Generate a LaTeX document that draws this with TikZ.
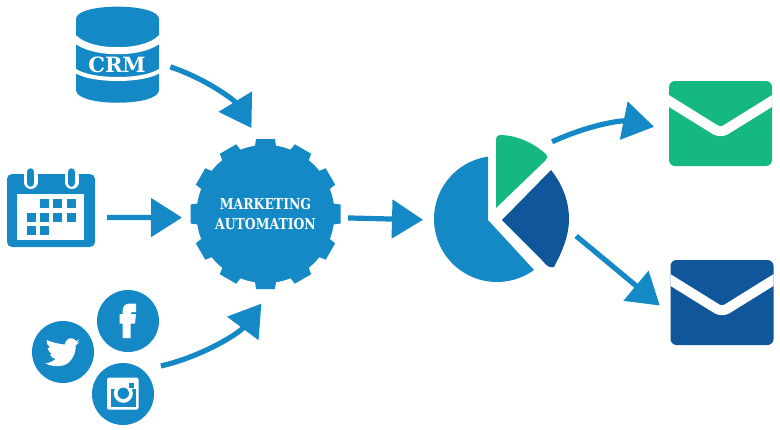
\documentclass[tikz,border=0pt]{standalone}
\usepackage{fontspec}
\usetikzlibrary{arrows.meta}
\newfontfamily\gearfont[FakeStretch=0.83]{DejaVu Serif}
\newfontfamily\crmfont{DejaVu Serif}
\definecolor{brandblue}{HTML}{1589C5}
\definecolor{brandgreen}{HTML}{15B97F}
\definecolor{branddark}{HTML}{10569A}
\tikzset{
  flow/.style={draw=brandblue, line width=5.2pt, -{Triangle[length=31pt, width=38pt]}},
  iconbox/.style={rectangle, inner sep=0pt, outer sep=0pt},
  social/.style={circle, fill=brandblue, minimum size=62pt, inner sep=0pt, outer sep=0pt},
  mail/.style={rectangle, rounded corners=6pt, minimum width=103pt, minimum height=85pt,
    inner sep=0pt, outer sep=0pt, path picture={
      \draw[white, line width=10pt, line join=round]
        ([shift={(-62,-29)}]path picture bounding box.center) --
        ([shift={(0,9.5)}]path picture bounding box.center) --
        ([shift={(62,-29)}]path picture bounding box.center);}}
}
\begin{document}
\begin{tikzpicture}[x=1pt, y=-1pt]
\useasboundingbox (0,0) rectangle (780,429);

\fill[brandblue] (76,19) .. controls (76,2.5) and (159,2.5) .. (159,19) -- (159,90)
  .. controls (159,107) and (76,107) .. (76,90) -- cycle;
\draw[white, line width=7pt] (74,38) .. controls (90,55) and (145,55) .. (161,38);
\draw[white, line width=4pt] (74,70) .. controls (90,82) and (145,82) .. (161,70);
\node[iconbox, minimum width=83pt, minimum height=96pt] (crm) at (117.5,55) {};
\node[text=white, inner sep=0pt, font=\crmfont\bfseries\fontsize{21}{21}\selectfont] (crmtext) at (117,64.5) {CRM};

\node[iconbox, fill=brandblue, rounded corners=5pt, minimum width=88pt, minimum height=73pt] (calendar) at (51,210.5) {};
\node[iconbox, fill=white, minimum width=67pt, minimum height=46pt] (sheet) at (50.5,217) {};
\foreach \px in {30.7,71.7} {
  \draw[white, line width=14pt, line cap=round] (\px,176) -- (\px,182);
  \draw[brandblue, line width=7.5pt, line cap=round] (\px,172) -- (\px,183);
}
\foreach \px/\py in {40/199,53/199,67/199,27/213,40/213,53/213,67/213,27/226,40/226} {
  \fill[brandblue] (\px,\py) rectangle ++(9,9);
}

\node[social] (facebook) at (128,321) {};
\node[social] (twitter) at (63,352) {};
\node[social] (instagram) at (123,394) {};
\fill[white] (122.7,338) -- (122.7,323.5) -- (119.5,323.5) -- (119.5,314) -- (122.7,314) -- (122.7,311)
  .. controls (122.7,305) and (126,303.5) .. (131,303.5) -- (136,303.5) -- (136,312) -- (132.5,312)
  .. controls (131,312) and (130.7,313) .. (130.7,314) -- (136,314) -- (135,323.5) -- (130.7,323.5) -- (130.7,338) -- cycle;
\fill[white] (79.5,339.5) -- (76.3,341) .. controls (74,338) and (70,337.5) .. (67.5,339.5)
  .. controls (65.5,341) and (65,343) .. (65,344.5) .. controls (58,344) and (51,342) .. (46.7,340)
  .. controls (46,343) and (47.5,345.5) .. (50,347) -- (47.7,348.3) .. controls (48,351) and (50,353) .. (52,354)
  -- (50,354.5) .. controls (51,357) and (53,358.5) .. (55.5,359) .. controls (52.5,361.5) and (49.5,363) .. (45.5,363.3)
  .. controls (50,366) and (57,367) .. (63,365.5) .. controls (71,363.5) and (76,354) .. (75.7,345.5)
  -- (79.5,342) -- (76.5,342.8) -- cycle;
\fill[white, rounded corners=1.5pt] (107,377.7) rectangle (138.5,409.5);
\fill[brandblue] (111,389) rectangle (135.5,406.5);
\fill[white] (111,377.7) rectangle (135.5,389);
\fill[white] (123.3,393.3) circle (9.5pt);
\fill[brandblue] (123.3,393.3) circle (5.7pt);
\fill[brandblue] (129.3,383.3) rectangle (134.3,387.7);

\node[circle, fill=brandblue, minimum size=138pt, inner sep=0pt, outer sep=0pt, align=center, text=white,
  font=\gearfont\bfseries\fontsize{15}{20.6}\selectfont] (gear) at (265.5,214) {MARKETING\\AUTOMATION};
\foreach \a in {0,30,...,330} {
  \fill[brandblue, rotate around={\a:(265.5,214)}] (256,139) -- (275,139) -- (276.5,150) -- (254.5,150) -- cycle;
}

\fill[brandblue] plot[domain=98:306, samples=70] ({497+63*cos(\x)},{219-63*sin(\x)}) -- (488,220) -- cycle;
\fill[brandgreen] (496,170) [rounded corners=4pt] -- (496,135) .. controls (516,135) and (534,143) .. (549,157)
  [sharp corners] -- (496,208) -- cycle;
\fill[branddark] (502,220) -- (551,170) .. controls (563,185) and (569,202) .. (569,219)
  .. controls (569,236) and (562,252) .. (554,267) [rounded corners=4pt] -- (549,268) -- (540,258) [sharp corners] -- cycle;
\node[iconbox, minimum size=126pt, circle] (pie) at (497,219) {};
\node[iconbox, minimum width=52pt, minimum height=73pt] (slicegreen) at (522,171.5) {};
\node[iconbox, minimum width=67pt, minimum height=97pt] (sliceblue) at (535.5,218.5) {};

\node[mail, fill=brandgreen] (mailgreen) at (720.5,123.5) {};
\node[mail, fill=branddark] (mailblue) at (722,302.5) {};

\draw[flow, shorten <=12pt, shorten >=20pt] (crm.-11) to[bend left=20] (gear.93);
\draw[flow, shorten <=12pt, shorten >=14.6pt] (calendar.-9.67) -- (gear.183.3);
\draw[flow, shorten <=18.5pt, shorten >=27pt] (instagram.50) to[bend right=20] (gear.-80.8);
\draw[flow, shorten <=13.6pt, shorten >=11pt] (gear.-3.3) -- (pie.181);
\draw[flow, shorten <=4.5pt, shorten >=15.2pt] (slicegreen.47.6) to[bend left=18] (mailgreen.187.6);
\draw[flow, shorten <=9.3pt, shorten >=13.9pt] (sliceblue.-19.4) -- (mailblue.193.8);
\end{tikzpicture}
\end{document}
